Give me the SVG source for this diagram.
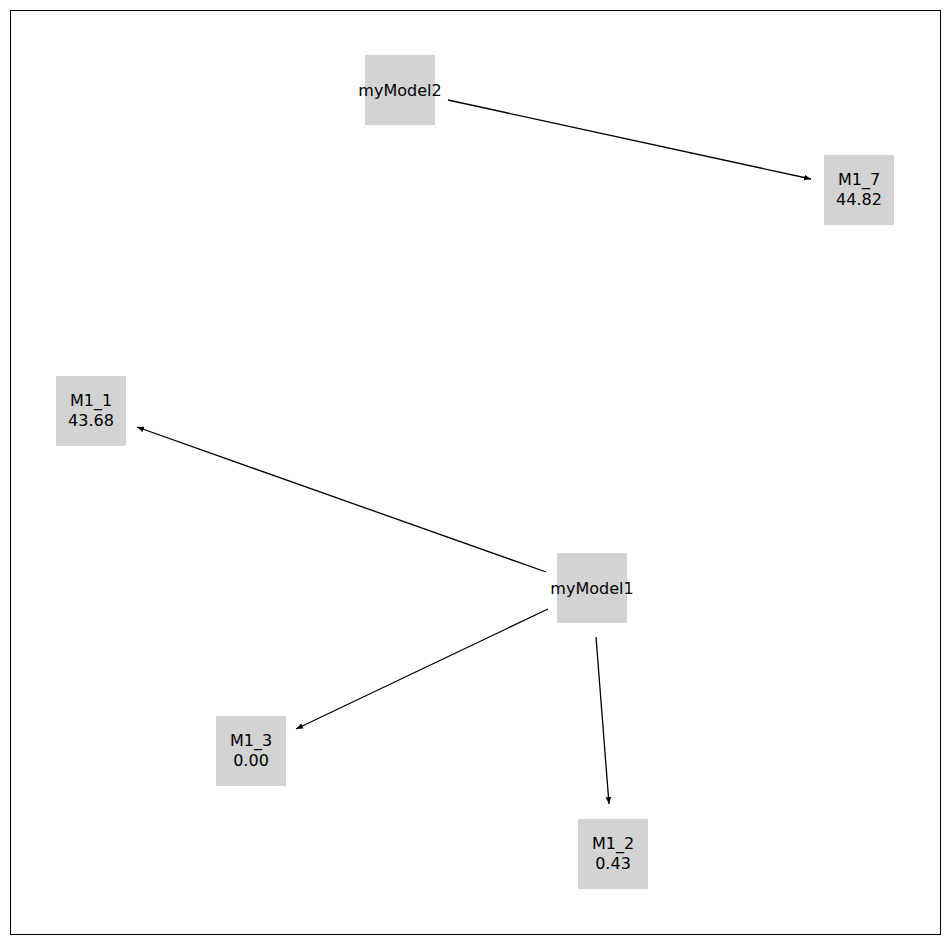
<svg xmlns="http://www.w3.org/2000/svg" width="950" height="944" viewBox="0 0 950 944">
<style>
.n{fill:#d3d3d3}
.t{font-family:"DejaVu Sans",sans-serif;font-size:16px;fill:#000;text-anchor:middle}
.e{stroke:#000;stroke-width:1.3;fill:none;marker-end:url(#a)}
</style>
<defs><marker id="a" viewBox="0 0 10 8" refX="10" refY="4" markerWidth="7" markerHeight="6" orient="auto" markerUnits="userSpaceOnUse"><path d="M0,0L10,4L0,8z" fill="#000"/></marker></defs>
<rect x="0" y="0" width="950" height="944" fill="#fff"/>
<rect x="10.5" y="10.5" width="930" height="924" fill="none" stroke="#000" stroke-width="1"/>
<g id="connectors">
<line class="e" x1="448" y1="100" x2="811" y2="179"/>
<line class="e" x1="546" y1="572" x2="137" y2="427"/>
<line class="e" x1="548" y1="609" x2="296" y2="729"/>
<line class="e" x1="596" y1="637" x2="609" y2="804"/>
</g>
<g id="myModel2"><rect class="n" x="365" y="55" width="70" height="70"/><text class="t" x="400" y="96">myModel2</text></g>
<g id="M1_7"><rect class="n" x="824" y="155" width="70" height="70"/><text class="t" x="859" y="185">M1_7</text><text class="t" x="859" y="205">44.82</text></g>
<g id="M1_1"><rect class="n" x="56" y="376" width="70" height="70"/><text class="t" x="91" y="406">M1_1</text><text class="t" x="91" y="426">43.68</text></g>
<g id="myModel1"><rect class="n" x="557" y="553" width="70" height="70"/><text class="t" x="592" y="594">myModel1</text></g>
<g id="M1_3"><rect class="n" x="216" y="716" width="70" height="70"/><text class="t" x="251" y="746">M1_3</text><text class="t" x="251" y="766">0.00</text></g>
<g id="M1_2"><rect class="n" x="578" y="819" width="70" height="70"/><text class="t" x="613" y="849">M1_2</text><text class="t" x="613" y="869">0.43</text></g>
</svg>
